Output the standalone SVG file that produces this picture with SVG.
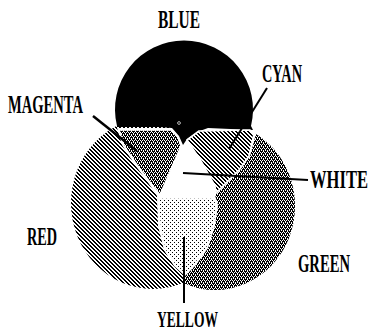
<svg xmlns="http://www.w3.org/2000/svg" width="372" height="334" viewBox="0 0 372 334">
<style>
.lbl{font-family:"Liberation Serif","DejaVu Serif",serif;font-weight:bold;font-size:16px;fill:#000}
.lead{stroke:#000;fill:none;stroke-linecap:butt}
.gap{stroke:#fff;stroke-width:1.6;stroke-linejoin:round}
</style>
<defs>
<pattern id="stripes" width="4" height="4" patternUnits="userSpaceOnUse" shape-rendering="crispEdges">
<rect width="4" height="4" fill="#fff"/>
<path d="M0,0h2v1h-2zM1,1h2v1h-2zM2,2h2v1h-2zM3,3h1v1h-1zM0,3h1v1h-1z" fill="#000"/>
</pattern>
<pattern id="checker" width="4" height="4" patternUnits="userSpaceOnUse" shape-rendering="crispEdges">
<rect width="4" height="4" fill="#000"/>
<rect x="0" y="0" width="1" height="1" fill="#fff"/>
<rect x="2" y="0" width="1" height="1" fill="#fff"/>
<rect x="1" y="2" width="1" height="1" fill="#fff"/>
<rect x="3" y="2" width="1" height="1" fill="#fff"/>
<rect x="1" y="1" width="1" height="1" fill="#fff"/>
<rect x="3" y="3" width="1" height="1" fill="#fff"/>
</pattern>
<pattern id="dots" width="4" height="4" patternUnits="userSpaceOnUse" shape-rendering="crispEdges">
<rect width="4" height="4" fill="#fff"/>
<rect x="0" y="0" width="1" height="1" fill="#000"/>
<rect x="2" y="2" width="1" height="1" fill="#000"/>
</pattern>
<clipPath id="redClip"><rect x="0" y="0" width="184" height="334"/></clipPath>
</defs>

<g id="green"><ellipse cx="215" cy="206" rx="80" ry="84" fill="url(#checker)"/></g>
<g id="red"><ellipse cx="153" cy="203" rx="82" ry="86" fill="url(#stripes)" clip-path="url(#redClip)"/></g>
<g id="hub"><path d="M117,128 L254,128 L256,134 L250,156 L240,170 L226,184 L215,195 L218,205 L215,225 L208,248 L196,265 L185,276 L174,266 L164,250 L158,226 L157,196 L147,181 L135,165 L122,145 Z" fill="#fff"/></g>
<g id="blue"><path d="M117,126 A69,69 0 1 1 251,126 L253,130 L208,128 L197,132 L187,139 L183,145 L179,136 L172,128 L160,127 L117,127 Z" fill="#000"/>
<circle cx="179" cy="123" r="1.4" fill="none" stroke="#fff" stroke-width="0.7"/></g>
<g id="yellow"><path d="M158,198 L214,198 L217,206 L214,226 L207,248 L195,264 L185,274 L175,265 L165,250 L160,226 Z" fill="url(#dots)" class="gap"/></g>
<g id="magenta"><path d="M119,130 L171,130 L178,137 L181,146 L160,195 L149,181 L137,165 L124,146 Z" fill="url(#checker)" class="gap"/></g>
<g id="cyan"><path d="M187,140 L199,131 L250,130 L254,134 L249,156 L239,170 L225,184 L216,193 L215,186 L201,161 Z" fill="url(#stripes)" class="gap"/></g>

<g id="connectors">
<line class="lead" x1="93" y1="116" x2="137" y2="151" stroke-width="2.5"/>
<line class="lead" x1="267" y1="88" x2="229" y2="149" stroke-width="2"/>
<line class="lead" x1="183" y1="173" x2="308" y2="180" stroke-width="2"/>
<line class="lead" x1="184" y1="237" x2="184" y2="303" stroke-width="2"/>
</g>

<g id="label-blue"><text class="lbl" transform="translate(158,28) scale(1,1.6)" textLength="42" lengthAdjust="spacingAndGlyphs">BLUE</text></g>
<g id="label-cyan"><text class="lbl" transform="translate(262,82) scale(1,1.6)" textLength="40" lengthAdjust="spacingAndGlyphs">CYAN</text></g>
<g id="label-magenta"><text class="lbl" transform="translate(8,113) scale(1,1.6)" textLength="75" lengthAdjust="spacingAndGlyphs">MAGENTA</text></g>
<g id="label-white"><text class="lbl" transform="translate(310,188) scale(1,1.6)" textLength="58" lengthAdjust="spacingAndGlyphs">WHITE</text></g>
<g id="label-red"><text class="lbl" transform="translate(27,245) scale(1,1.6)" textLength="30" lengthAdjust="spacingAndGlyphs">RED</text></g>
<g id="label-green"><text class="lbl" transform="translate(298,272) scale(1,1.6)" textLength="52" lengthAdjust="spacingAndGlyphs">GREEN</text></g>
<g id="label-yellow"><text class="lbl" transform="translate(157,327) scale(1,1.5)" textLength="61" lengthAdjust="spacingAndGlyphs">YELLOW</text></g>
</svg>
